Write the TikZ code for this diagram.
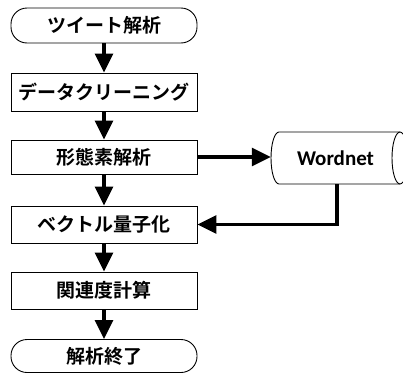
\documentclass[tikz,border=0pt]{standalone}
\usepackage{fontspec}
\newfontfamily\jp{Noto Sans CJK JP}[BoldFont={Noto Sans CJK JP Bold}]
\newfontfamily\lat{Carlito}[BoldFont={Carlito Bold}]
\usetikzlibrary{arrows.meta}
\begin{document}
\begin{tikzpicture}[x=1pt,y=-1pt,
  procbox/.style={draw, line width=0.9pt, minimum width=186pt, minimum height=36pt,
    inner sep=0pt, font=\jp\bfseries\fontsize{19}{19}\selectfont},
  termbox/.style={procbox, rounded corners=16pt},
  flow/.style={line width=3.2pt, -{Triangle[length=19pt,width=18pt]}},
  outline/.style={line width=0.9pt}]
\useasboundingbox (0,0) rectangle (403,375);
\clip (0,0) rectangle (403,375);
\node[termbox, minimum height=35pt] (start) at (104,25.5) {ツイート解析};
\node[procbox, minimum height=38pt] (b2) at (104,92) {データクリーニング};
\node[procbox, minimum height=34pt] (b3) at (104,157) {形態素解析};
\node[procbox, minimum height=37pt] (b4) at (104,224.5) {ベクトル量子化};
\node[procbox, minimum height=37pt] (b5) at (104,290.5) {関連度計算};
\node[termbox, minimum height=33pt] (end) at (104,356) {解析終了};
% Wordnet storage (horizontal cylinder)
\draw[outline] (400,132) -- (279,132) arc[start angle=90, end angle=270, x radius=8pt, y radius=26pt] -- (400,184);
\draw[outline] (400,158) ellipse [x radius=8pt, y radius=26pt];
\node[minimum width=129pt, minimum height=52pt, inner sep=0pt,
  font=\lat\bfseries\fontsize{21}{21}\selectfont] (wn) at (335.5,158) {Wordnet};
\draw[flow] (start) -- (b2);
\draw[flow] (b2) -- (b3);
\draw[flow] (b3) -- (b4);
\draw[flow] (b4) -- (b5);
\draw[flow] (b5) -- (end);
\draw[flow] (b3.east) -- (b3.east -| wn.west);
\draw[flow] ([xshift=1.5pt]wn.south) |- (b4.east);
\end{tikzpicture}
\end{document}
